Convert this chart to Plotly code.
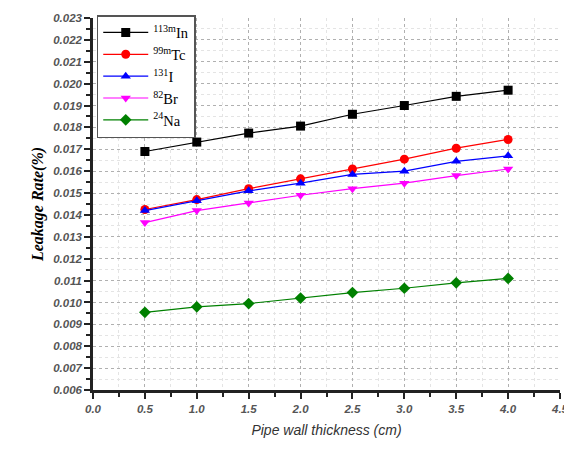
import plotly.graph_objects as go

thickness = [0.5, 1.0, 1.5, 2.0, 2.5, 3.0, 3.5, 4.0]
in113m = [0.01690, 0.01733, 0.01774, 0.01806, 0.01860, 0.01900, 0.01942, 0.01970]
tc99m = [0.01425, 0.01470, 0.01520, 0.01565, 0.01610, 0.01655, 0.01705, 0.01745]
i131 = [0.01420, 0.01465, 0.01510, 0.01545, 0.01585, 0.01600, 0.01645, 0.01670]
br82 = [0.01365, 0.01420, 0.01455, 0.01490, 0.01520, 0.01545, 0.01580, 0.01610]
na24 = [0.00955, 0.00980, 0.00995, 0.01020, 0.01045, 0.01065, 0.01090, 0.01110]

series = [
    ("<sup>113m</sup>In", in113m, "#000000", "square"),
    ("<sup>99m</sup>Tc", tc99m, "#ff0000", "circle"),
    ("<sup>131</sup>I", i131, "#0000ff", "triangle-up"),
    ("<sup>82</sup>Br", br82, "#ff00ff", "triangle-down"),
    ("<sup>24</sup>Na", na24, "#008000", "diamond"),
]

fig = go.Figure()
for name, ys, col, sym in series:
    fig.add_trace(go.Scatter(
        x=thickness, y=ys, name=name, mode="lines+markers",
        line=dict(color=col, width=1.2),
        marker=dict(symbol=sym, size=9, color=col),
    ))

tickfont = dict(family="Arial, Liberation Sans", size=11.5, color="#555555", style="italic", weight="bold")
axis_common = dict(
    showline=True, linecolor="#222222", linewidth=2.5,
    ticks="outside", ticklen=6, tickwidth=2, tickcolor="#222222",
    showgrid=True, gridcolor="#b0b0b0", griddash="dot", gridwidth=1,
    zeroline=False, tickfont=tickfont, mirror=False, automargin=False,
)

fig.update_xaxes(
    range=[0, 4.5], dtick=0.5, tick0=0, tickformat=".1f",
    minor=dict(dtick=0.25, ticks="outside", ticklen=4, tickcolor="#222222",
               showgrid=True, gridcolor="#e4e4e4", griddash="dot"),
    title=dict(text="Pipe wall thickness (cm)",
               font=dict(family="Arial, Liberation Sans", size=14, color="#333333", style="italic"),
               standoff=12),
    **axis_common,
)
fig.update_yaxes(
    range=[0.006, 0.023], dtick=0.001, tick0=0.006, tickformat=".3f",
    minor=dict(dtick=0.0005, ticks="outside", ticklen=4, tickcolor="#222222",
               showgrid=True, gridcolor="#e4e4e4", griddash="dot"),
    title=dict(text="<b><i>Leakage Rate(%)</i></b>",
               font=dict(family="Times New Roman, Liberation Serif", size=16, color="#000000"),
               standoff=6),
    **axis_common,
)

fig.update_layout(
    width=564, height=442,
    margin=dict(l=85, r=12, t=7, b=60),
    plot_bgcolor="white", paper_bgcolor="white",
    legend=dict(
        x=0.008, y=1.008, xanchor="left", yanchor="top",
        bgcolor="white", bordercolor="#555555", borderwidth=1.5,
        font=dict(family="Times New Roman, Liberation Serif", size=14.5, color="#000000"),
        tracegroupgap=0, itemwidth=45,
    ),
    showlegend=True,
)

fig.write_html("out.html")
